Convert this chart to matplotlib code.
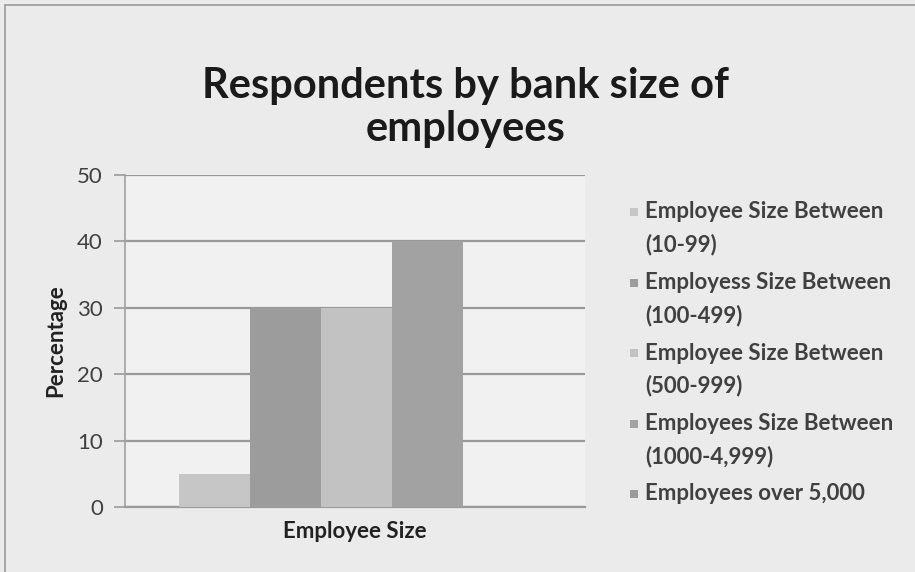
import matplotlib.pyplot as plt
from matplotlib.patches import Rectangle

plt.rcParams['font.family'] = ['Lato', 'DejaVu Sans']

# data
categories = ['Employee Size']
series_names = [
    'Employee Size Between\n(10-99)',
    'Employess Size Between\n(100-499)',
    'Employee Size Between\n(500-999)',
    'Employees Size Between\n(1000-4,999)',
    'Employees over 5,000',
]
values = [5, 30, 30, 40, 0]
colors = ['#c6c6c6', '#9c9c9c', '#c2c2c2', '#a2a2a2', '#9a9a9a']
y_ticks = [0, 10, 20, 30, 40, 50]

W, H = 915, 572
fig = plt.figure(figsize=(9.15, 5.72), dpi=100, facecolor='#ebebeb')
ax = fig.add_axes([125 / W, 1 - 507 / H, 460 / W, 332 / H])
ax.set_facecolor('#f1f1f1')

w = 0.1543
for i, (v, c) in enumerate(zip(values, colors)):
    ax.bar(0 + (i - 2) * w + 0.004, v, width=w, color=c, zorder=3)

ax.set_xlim(-0.5, 0.5)
ax.set_ylim(0, 50)
ax.set_yticks(y_ticks)
ax.set_xticks([0])
ax.set_xticklabels(categories, fontsize=16, fontweight='bold', color='#222222')
ax.tick_params(axis='x', length=0, pad=10)
ax.tick_params(axis='y', length=8, width=1.2, color='#9a9a9a', labelsize=16,
               labelcolor='#404040', pad=8)
ax.grid(axis='y', color='#9a9a9a', linewidth=1.6, zorder=1)
for s in ['top', 'right']:
    ax.spines[s].set_visible(False)
ax.spines['left'].set_color('#a0a0a0')
ax.spines['left'].set_linewidth(1.2)
ax.spines['bottom'].set_color('#9a9a9a')
ax.spines['bottom'].set_linewidth(1.6)
ax.set_ylabel('Percentage', fontsize=16, fontweight='bold', color='#222222', labelpad=8)

fig.text(0.509, 1 - 86 / H, 'Respondents by bank size of', ha='center', va='center',
         fontsize=30, fontweight='bold', color='#1a1a1a')
fig.text(0.509, 1 - 129 / H, 'employees', ha='center', va='center',
         fontsize=30, fontweight='bold', color='#1a1a1a')

# legend, marker next to the first line of each entry
for i, (name, c) in enumerate(zip(series_names, colors)):
    y0 = 212 + i * 70.5
    fig.patches.append(Rectangle((630 / W, 1 - (y0 + 4) / H), 8 / W, 8 / H,
                                 transform=fig.transFigure, facecolor=c, edgecolor='none'))
    for j, line in enumerate(name.split('\n')):
        fig.text(645 / W, 1 - (y0 + j * 33) / H, line, ha='left', va='center',
                 fontsize=16, fontweight='bold', color='#404040')

# scanned page border
fig.patches.append(Rectangle((5 / W, -0.1), 2.0, 1.1 - 5 / H, transform=fig.transFigure,
                             fill=False, edgecolor='#9a9a9a', linewidth=1.2))

fig.savefig('out.png', dpi=100, facecolor=fig.get_facecolor())
